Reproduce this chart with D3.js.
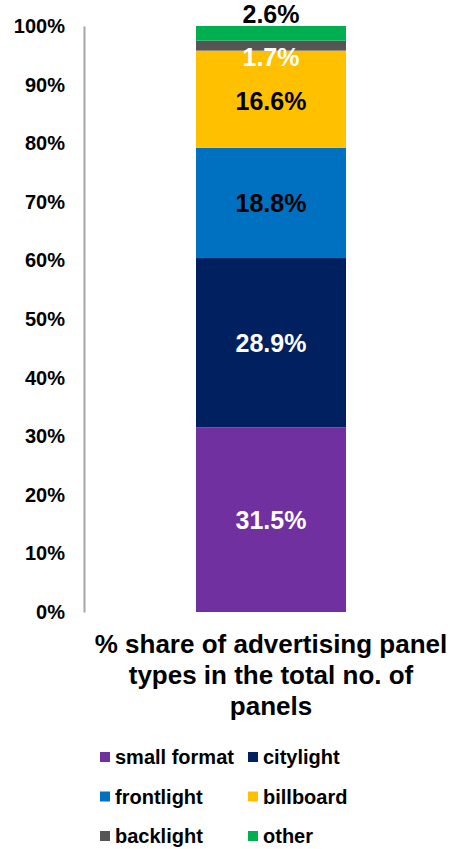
<!DOCTYPE html>
<html>
<head>
<meta charset="utf-8">
<script src="https://cdn.jsdelivr.net/npm/d3@7"></script>
<style>
    body { margin: 0; background: #fff; }
    svg text { font-family: "Liberation Sans", Arial, sans-serif; font-weight: bold; }
</style>
</head>
<body>
<div id="chart"></div>
<script>
// Data
const categories = ["small format", "citylight", "frontlight", "billboard", "backlight", "other"];
const shares = [31.5, 28.9, 18.8, 16.6, 1.7, 2.6];
const colors = ["#7030A0", "#002060", "#0070C0", "#FFC000", "#555555", "#00B050"];
const labelColors = ["#fff", "#fff", "#000", "#000", "#fff", "#000"];
const yTicks = [0, 10, 20, 30, 40, 50, 60, 70, 80, 90, 100];
const titleLines = ["% share of advertising panel", "types in the total no. of", "panels"];

const width = 455;
const height = 849;
const margin = { top: 26, bottom: 237 };

const svg = d3.select("#chart")
    .append("svg")
    .attr("width", width)
    .attr("height", height);

// Scales
const y = d3.scaleLinear()
    .domain([0, 100])
    .range([height - margin.bottom, margin.top]);

const x = d3.scaleBand()
    .domain(["total"])
    .range([196, 346])
    .padding(0);

const cx = x("total") + x.bandwidth() / 2;

// Stack the segments
let acc = 0;
const segments = shares.map((v, i) => {
    const s = { key: categories[i], y0: acc, y1: acc + v, value: v };
    acc += v;
    return s;
});

// Axis: only the line and the labels
const axis = d3.axisLeft(y)
    .tickValues(yTicks)
    .tickFormat(d => d + "%")
    .tickSize(0)
    .tickPadding(19);

const gAxis = svg.append("g")
    .attr("transform", "translate(84,0)")
    .call(axis);
gAxis.select(".domain")
    .attr("stroke", "#A6A6A6")
    .attr("stroke-width", 2);
gAxis.selectAll("text")
    .attr("font-size", 20)
    .attr("fill", "#000")
    .attr("font-family", "'Liberation Sans', Arial, sans-serif")
    .attr("font-weight", "bold");

// Bar segments
svg.selectAll(".seg")
    .data(segments)
    .enter()
    .append("rect")
    .attr("class", "seg")
    .attr("x", x("total"))
    .attr("width", x.bandwidth())
    .attr("y", d => y(Math.min(d.y1, 100)))
    .attr("height", d => y(d.y0) - y(Math.min(d.y1, 100)))
    .attr("fill", (d, i) => colors[i]);

// Value labels (small ones nudged like the original)
const nudge = [0, 0, 0, 2, 11, -19];
svg.selectAll(".val")
    .data(segments)
    .enter()
    .append("text")
    .attr("class", "val")
    .attr("x", cx)
    .attr("y", (d, i) => (y(d.y0) + y(Math.min(d.y1, 100))) / 2 + nudge[i])
    .attr("text-anchor", "middle")
    .attr("dominant-baseline", "central")
    .attr("font-size", 25)
    .attr("fill", (d, i) => labelColors[i])
    .text(d => d.value.toFixed(1) + "%");

// Category title under the bar
svg.append("text")
    .attr("x", cx)
    .attr("y", 653)
    .attr("text-anchor", "middle")
    .attr("font-size", 26)
    .selectAll("tspan")
    .data(titleLines)
    .enter()
    .append("tspan")
    .attr("x", cx)
    .attr("dy", (d, i) => i === 0 ? 0 : 31)
    .text(d => d);

// Legend, two columns
const legend = svg.selectAll(".legend")
    .data(categories)
    .enter()
    .append("g")
    .attr("class", "legend")
    .attr("transform", (d, i) => `translate(${i % 2 === 0 ? 100 : 248},${757 + Math.floor(i / 2) * 39.5})`);

legend.append("rect")
    .attr("x", 0)
    .attr("y", -5)
    .attr("width", 10)
    .attr("height", 10)
    .attr("fill", (d, i) => colors[i]);

legend.append("text")
    .attr("x", 15)
    .attr("y", 0)
    .attr("dominant-baseline", "central")
    .attr("font-size", 20)
    .text(d => d);
</script>
</body>
</html>
